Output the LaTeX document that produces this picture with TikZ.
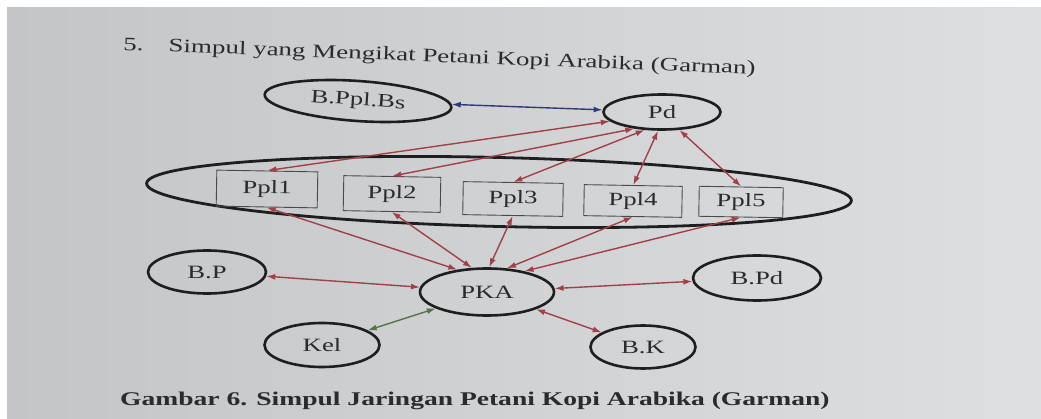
\documentclass[tikz,border=0pt]{standalone}
\usepackage{fontspec}
\setmainfont[FakeStretch=1.42]{Liberation Serif}
\usetikzlibrary{shapes.geometric,arrows.meta}
\definecolor{bgL}{HTML}{C3C5C7}
\definecolor{bgR}{HTML}{DEDFE1}
\definecolor{redar}{HTML}{A2404A}
\definecolor{bluear}{HTML}{2E3A7E}
\definecolor{greenar}{HTML}{55734A}
\definecolor{ink}{HTML}{2B2B2F}
\definecolor{ovalc}{HTML}{1E1E20}
\definecolor{boxc}{HTML}{4A4A4E}
\newcommand\ndfont{\fontsize{18.8}{22}\selectfont}
\newcommand\ttlfont{\fontsize{19}{22}\selectfont}
\newcommand\capfont{\fontsize{19.4}{22}\selectfont\bfseries}
\begin{document}
\begin{tikzpicture}[x=1pt,y=-1pt,
  oval/.style={ellipse, draw=ovalc, line width=2.6pt, inner sep=0pt, font=\ndfont, text=ink},
  pbox/.style={rectangle, draw=boxc, line width=0.9pt, minimum height=32pt, inner sep=0pt, font=\ndfont, text=ink, rotate=-1},
  link/.style={<->, >={Latex[length=9pt,width=6pt]}, line width=1.4pt},
  lbl/.style={inner sep=0pt, text=ink}]
\useasboundingbox (0,0) rectangle (1041,419);
\fill[white] (0,0) rectangle (1041,419);
\shade[left color=bgL, right color=bgR] (7,8) rectangle (1041,419);

% title and caption
\node[lbl, anchor=base west, rotate=-2.2, font=\ttlfont] (title) at (123,50)
  {5.\hspace{25pt}Simpul yang Mengikat Petani Kopi Arabika (Garman)};
\node[lbl, anchor=base west, font=\capfont] (caption) at (120,405)
  {Gambar 6. Simpul Jaringan Petani Kopi Arabika (Garman)};

% group ellipse
\node[ellipse, draw=ovalc, line width=2.8pt, minimum width=705pt, minimum height=69pt, rotate=-1.4] (grp) at (499,192) {};

% nodes
\node[oval, minimum width=187pt, minimum height=40pt, rotate=-4] (bppl) at (358,101) {B.Ppl.Bs};
\node[oval, minimum width=117pt, minimum height=35pt] (pd) at (662,112) {Pd};

\node[pbox, minimum width=101pt, minimum height=36pt] (ppl1) at (267,189) {Ppl1};
\node[pbox, minimum width=97pt, minimum height=35pt] (ppl2) at (392,194) {Ppl2};
\node[pbox, minimum width=100pt, minimum height=33pt] (ppl3) at (513,199) {Ppl3};
\node[pbox, minimum width=98pt, minimum height=31pt] (ppl4) at (633,201) {Ppl4};
\node[pbox, minimum width=84pt, minimum height=30pt] (ppl5) at (741,202) {Ppl5};

\node[oval, minimum width=118pt, minimum height=43pt] (bp) at (207,272) {B.P};
\node[oval, minimum width=134pt, minimum height=47pt] (pka) at (487,292) {PKA};
\node[oval, minimum width=128pt, minimum height=45pt] (bpd) at (757,278) {B.Pd};
\node[oval, minimum width=115pt, minimum height=44pt] (kel) at (322,345) {Kel};
\node[oval, minimum width=105pt, minimum height=43pt] (bk) at (643,347) {B.K};

% connectors
\draw[link, bluear] (bppl) -- (pd);

\draw[link, redar] (pd.190) -- (ppl1.north);
\draw[link, redar] (pd.211) -- (ppl2.north);
\draw[link, redar] (pd.226) -- (ppl3.north);
\draw[link, redar] (pd.258) -- (ppl4.north);
\draw[link, redar] (pd.314) -- (ppl5.north);

\draw[link, redar] (ppl1.south) -- (pka.143);
\draw[link, redar] (ppl2.south) -- (pka.122);
\draw[link, redar] (ppl3.south) -- (pka.85);
\draw[link, redar] (ppl4.south) -- (pka.50);
\draw[link, redar] (ppl5.south) -- (pka.29);

\draw[link, redar] (bp) -- (pka);
\draw[link, redar] (pka) -- (bpd);
\draw[link, redar] (pka) -- (bk);
\draw[link, greenar] (kel) -- (pka);
\end{tikzpicture}
\end{document}
